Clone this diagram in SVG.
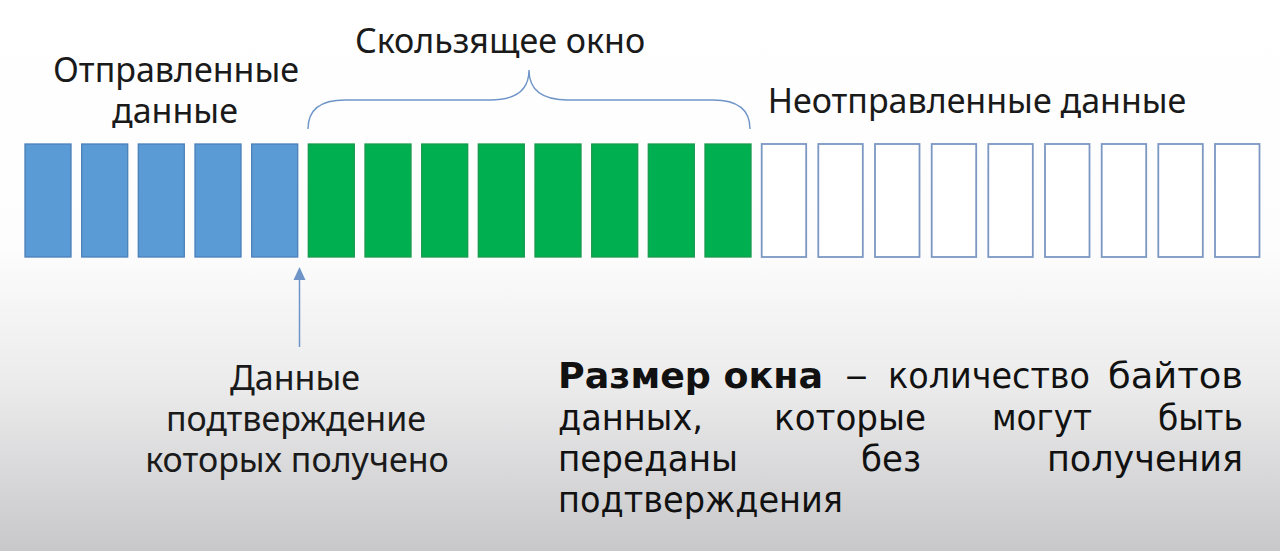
<svg xmlns="http://www.w3.org/2000/svg" width="1280" height="551" viewBox="0 0 1280 551">
  <defs>
    <linearGradient id="bg" x1="0" y1="0" x2="0" y2="1">
      <stop offset="0" stop-color="#ffffff"/>
      <stop offset="0.45" stop-color="#fdfdfd"/>
      <stop offset="0.7" stop-color="#ebebec"/>
      <stop offset="1" stop-color="#c8c8ca"/>
    </linearGradient>
    <style>
      .sent { fill: #5b9bd5; stroke: #4a7fb8; stroke-width: 1.3; }
      .win { fill: #00b050; stroke: #1a9a4e; stroke-width: 1.3; }
      .unsent { fill: #ffffff; stroke: #7b97c2; stroke-width: 1.8; }
      .lbl { font-family: "Noto Sans", "Open Sans", sans-serif; font-size: 34px; fill: #1a1a1a; text-anchor: middle; }
      .def { font-family: "DejaVu Sans Condensed", "DejaVu Sans", sans-serif; font-size: 36px; fill: #111111; }
      .b { font-weight: bold; }
    </style>
  </defs>
  <rect x="0" y="0" width="1280" height="551" fill="url(#bg)"/>

  <g id="sent-data">
    <rect class="sent" x="25" y="144" width="46" height="113"/>
    <rect class="sent" x="81.7" y="144" width="46" height="113"/>
    <rect class="sent" x="138.3" y="144" width="46" height="113"/>
    <rect class="sent" x="195" y="144" width="46" height="113"/>
    <rect class="sent" x="251.7" y="144" width="46" height="113"/>
  </g>
  <g id="window-data">
    <rect class="win" x="308.3" y="144" width="46" height="113"/>
    <rect class="win" x="365" y="144" width="46" height="113"/>
    <rect class="win" x="421.7" y="144" width="46" height="113"/>
    <rect class="win" x="478.3" y="144" width="46" height="113"/>
    <rect class="win" x="535" y="144" width="46" height="113"/>
    <rect class="win" x="591.7" y="144" width="46" height="113"/>
    <rect class="win" x="648.3" y="144" width="46" height="113"/>
    <rect class="win" x="705" y="144" width="46" height="113"/>
  </g>
  <g id="unsent-data">
    <rect class="unsent" x="761.7" y="144" width="44.5" height="113"/>
    <rect class="unsent" x="818.3" y="144" width="44.5" height="113"/>
    <rect class="unsent" x="875" y="144" width="44.5" height="113"/>
    <rect class="unsent" x="931.7" y="144" width="44.5" height="113"/>
    <rect class="unsent" x="988.3" y="144" width="44.5" height="113"/>
    <rect class="unsent" x="1045" y="144" width="44.5" height="113"/>
    <rect class="unsent" x="1101.7" y="144" width="44.5" height="113"/>
    <rect class="unsent" x="1158.3" y="144" width="44.5" height="113"/>
    <rect class="unsent" x="1215" y="144" width="44.5" height="113"/>
  </g>

  <g id="connectors">
    <path d="M308,129 C308,110 320,100 345,100 L490,100 C514,100 529,92 529,70 C529,92 544,100 568,100 L713,100 C738,100 750,110 750,129" fill="none" stroke="#6f95c8" stroke-width="1.4"/>
    <line x1="299.5" y1="347" x2="299.5" y2="278" stroke="#6f95c8" stroke-width="1.5"/>
    <polygon points="299.5,267 305.5,280 293.5,280" fill="#6f95c8"/>
  </g>

  <g id="label-sent">
    <text class="lbl" x="176" y="82">Отправленные</text>
    <text class="lbl" x="175" y="123">данные</text>
  </g>
  <g id="label-window">
    <text class="lbl" x="500" y="53">Скользящее окно</text>
  </g>
  <g id="label-unsent">
    <text class="lbl" x="977" y="113">Неотправленные данные</text>
  </g>
  <g id="label-ack">
    <text class="lbl" x="295" y="390">Данные</text>
    <text class="lbl" x="296" y="431">подтверждение</text>
    <text class="lbl" x="297" y="472">которых получено</text>
  </g>
  <g id="definition">
    <text class="def b" x="558" y="388" textLength="265" lengthAdjust="spacingAndGlyphs">Размер окна</text>
    <text class="def" x="845" y="388" textLength="23" lengthAdjust="spacingAndGlyphs">–</text>
    <text class="def" x="888" y="388" textLength="202" lengthAdjust="spacingAndGlyphs">количество</text>
    <text class="def" x="1108" y="388" textLength="135" lengthAdjust="spacingAndGlyphs">байтов</text>
    <text class="def" x="558" y="430" textLength="145" lengthAdjust="spacingAndGlyphs">данных,</text>
    <text class="def" x="774" y="430" textLength="152" lengthAdjust="spacingAndGlyphs">которые</text>
    <text class="def" x="992" y="430" textLength="100" lengthAdjust="spacingAndGlyphs">могут</text>
    <text class="def" x="1158" y="430" textLength="85" lengthAdjust="spacingAndGlyphs">быть</text>
    <text class="def" x="558" y="471" textLength="180" lengthAdjust="spacingAndGlyphs">переданы</text>
    <text class="def" x="861" y="471" textLength="60" lengthAdjust="spacingAndGlyphs">без</text>
    <text class="def" x="1047" y="471" textLength="196" lengthAdjust="spacingAndGlyphs">получения</text>
    <text class="def" x="558" y="512" textLength="285" lengthAdjust="spacingAndGlyphs">подтверждения</text>
  </g>
</svg>
